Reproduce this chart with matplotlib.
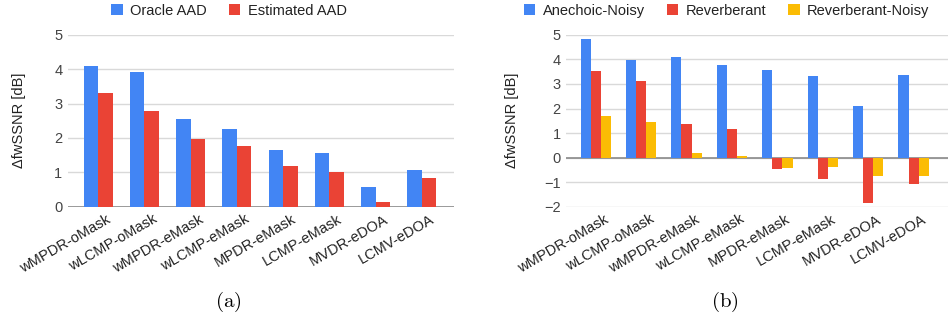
import matplotlib.pyplot as plt
import matplotlib.transforms as mtransforms
import numpy as np

methods = ['wMPDR-oMask', 'wLCMP-oMask', 'wMPDR-eMask', 'wLCMP-eMask',
           'MPDR-eMask', 'LCMP-eMask', 'MVDR-eDOA', 'LCMV-eDOA']

# (a)
oracle_aad = [4.08, 3.92, 2.54, 2.25, 1.64, 1.55, 0.56, 1.07]
estimated_aad = [3.31, 2.79, 1.97, 1.78, 1.17, 1.00, 0.15, 0.84]

# (b)
anechoic_noisy = [4.84, 3.98, 4.08, 3.78, 3.55, 3.32, 2.11, 3.36]
reverberant = [3.54, 3.14, 1.36, 1.16, -0.47, -0.87, -1.85, -1.06]
reverberant_noisy = [1.69, 1.46, 0.18, 0.08, -0.41, -0.37, -0.73, -0.73]

BLUE = '#4285F4'
RED = '#EA4335'
YELLOW = '#FBBC04'

plt.rcParams['font.family'] = ['Liberation Sans', 'DejaVu Sans']
plt.rcParams['mathtext.fontset'] = 'cm'

fig = plt.figure(figsize=(9.5, 3.26), dpi=100)
ax1 = fig.add_axes([0.0716, 0.366, 0.406, 0.527])
ax2 = fig.add_axes([0.596, 0.366, 0.402, 0.527])

x = np.arange(len(methods))


def style_axis(ax, ymin, ymax, xmax, lpad):
    ax.set_ylim(ymin, ymax)
    ax.set_xlim(-0.65, xmax)
    ax.set_yticks(range(ymin, ymax + 1))
    ax.yaxis.grid(True, color='#d9d9d9', linewidth=1)
    ax.set_axisbelow(True)
    for s in ax.spines.values():
        s.set_visible(False)
    ax.axhline(0, color='#8a8a8a', linewidth=1.2, zorder=1)
    ax.tick_params(length=0, labelsize=10.5, colors='#444444', pad=4)
    ax.set_xticks(x)
    offset = mtransforms.ScaledTranslation(0.08, 0, fig.dpi_scale_trans)
    ax.set_xticklabels(methods, rotation=30, ha='right', rotation_mode='anchor',
                       fontsize=10.5, color='#222222')
    for lbl in ax.get_xticklabels():
        lbl.set_transform(lbl.get_transform() + offset)
    ax.set_ylabel('ΔfwSSNR [dB]', fontsize=10.5, color='#222222', labelpad=lpad)


w = 0.315
ax1.bar(x - w / 2, oracle_aad, w, color=BLUE, label='Oracle AAD', zorder=2)
ax1.bar(x + w / 2, estimated_aad, w, color=RED, label='Estimated AAD', zorder=2)
style_axis(ax1, 0, 5, 7.69, 20)
ax1.legend(loc='center', bbox_to_anchor=(0.417, 1.14), ncol=2, frameon=False,
           fontsize=10.5, handlelength=0.8, handleheight=0.8, columnspacing=1.5,
           handletextpad=0.5, labelcolor='#222222')

w2 = 0.223
ax2.bar(x - w2, anechoic_noisy, w2, color=BLUE, label='Anechoic-Noisy', zorder=2)
ax2.bar(x, reverberant, w2, color=RED, label='Reverberant', zorder=2)
ax2.bar(x + w2, reverberant_noisy, w2, color=YELLOW, label='Reverberant-Noisy', zorder=2)
style_axis(ax2, -2, 5, 7.76, 18)
ax2.legend(loc='center', bbox_to_anchor=(0.42, 1.14), ncol=3, frameon=False,
           fontsize=10.5, handlelength=0.8, handleheight=0.8, columnspacing=1.5,
           handletextpad=0.5, labelcolor='#222222')

fig.text(0.24, 0.075, r'$\mathrm{(a)}$', ha='center', va='center', fontsize=15)
fig.text(0.763, 0.075, r'$\mathrm{(b)}$', ha='center', va='center', fontsize=15)

fig.savefig('out.png', dpi=100)
